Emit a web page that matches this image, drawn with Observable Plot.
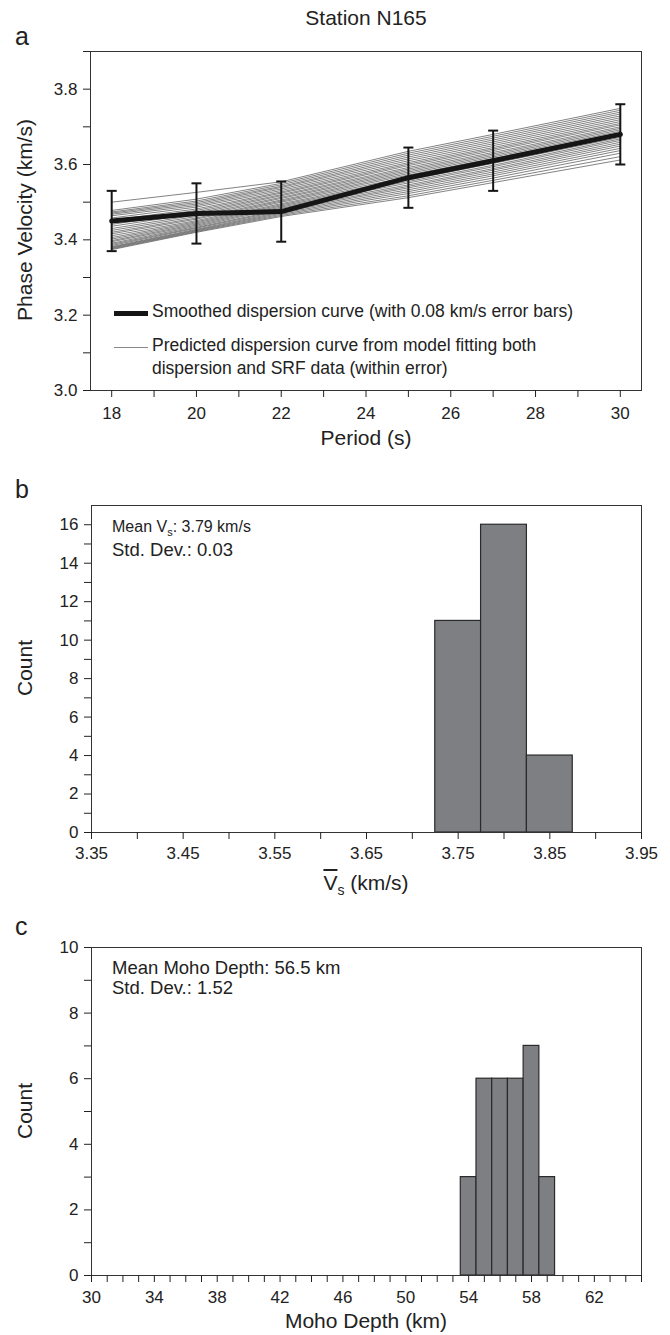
<!DOCTYPE html>
<html>
<head>
<meta charset="utf-8">
<script src="https://cdn.jsdelivr.net/npm/d3@7"></script>
<script src="https://cdn.jsdelivr.net/npm/@observablehq/plot@0.6"></script>
<style>
  html, body { margin: 0; padding: 0; background: #fff; }
  #wrap { position: relative; width: 670px; height: 1335px; font-family: "Liberation Sans", Arial, sans-serif; color: #222; overflow: hidden; }
  .panel { position: absolute; left: 0; }
  .t { position: absolute; line-height: 1; white-space: nowrap; }
  .ctr { transform: translateX(-50%); }
  .rot { transform: translate(-50%, -50%) rotate(-90deg); }
</style>
</head>
<body>
<div id="wrap"></div>
<script>
// ---------- Panel a data ----------
const periods = [18, 20, 22, 25, 27, 30];
const smoothVel = [3.45, 3.47, 3.475, 3.565, 3.61, 3.68];
const errorHalfWidth = 0.08;
const periodTickLabels = [18, 20, 22, 24, 26, 28, 30];
const periodMinorTicks = [19, 21, 23, 25, 27, 29];
const velTickLabels = [3.0, 3.2, 3.4, 3.6, 3.8];
const velMinorTicks = [3.1, 3.3, 3.5, 3.7, 3.9];

// predicted curves: value of each curve at each period
const predAt18 = [3.500, 3.478, 3.474, 3.471, 3.468, 3.464, 3.458, 3.452, 3.447, 3.441, 3.436, 3.430, 3.425, 3.420, 3.416, 3.411, 3.406, 3.402, 3.398, 3.395, 3.391, 3.388, 3.385, 3.382, 3.380, 3.378, 3.376, 3.374];
const predAt20 = [3.526, 3.508, 3.503, 3.499, 3.495, 3.491, 3.487, 3.482, 3.478, 3.474, 3.470, 3.466, 3.462, 3.458, 3.455, 3.451, 3.448, 3.445, 3.442, 3.439, 3.436, 3.433, 3.431, 3.428, 3.426, 3.424, 3.422, 3.420];
const predAt22 = [3.554, 3.550, 3.546, 3.542, 3.539, 3.535, 3.531, 3.527, 3.524, 3.520, 3.517, 3.513, 3.510, 3.506, 3.503, 3.500, 3.496, 3.493, 3.490, 3.487, 3.484, 3.480, 3.477, 3.474, 3.471, 3.468, 3.465, 3.462];
const predAt25 = [3.635, 3.630, 3.625, 3.620, 3.615, 3.610, 3.605, 3.601, 3.597, 3.592, 3.588, 3.584, 3.580, 3.576, 3.572, 3.567, 3.563, 3.559, 3.555, 3.551, 3.546, 3.542, 3.538, 3.533, 3.528, 3.523, 3.517, 3.512];
const predAt27 = [3.680, 3.675, 3.670, 3.665, 3.660, 3.655, 3.650, 3.645, 3.641, 3.637, 3.632, 3.628, 3.624, 3.620, 3.616, 3.611, 3.607, 3.603, 3.598, 3.594, 3.589, 3.585, 3.580, 3.575, 3.570, 3.564, 3.558, 3.552];
const predAt30 = [3.749, 3.744, 3.739, 3.734, 3.729, 3.724, 3.719, 3.714, 3.709, 3.705, 3.700, 3.696, 3.692, 3.688, 3.684, 3.680, 3.676, 3.672, 3.668, 3.664, 3.659, 3.654, 3.649, 3.643, 3.637, 3.630, 3.621, 3.612];

// ---------- Panel b data ----------
const vsBinLo = [3.725, 3.775, 3.825];
const vsBinHi = [3.775, 3.825, 3.875];
const vsCounts = [11, 16, 4];
const vsTickLabels = [3.35, 3.45, 3.55, 3.65, 3.75, 3.85, 3.95];
const vsMinorTicks = [3.40, 3.50, 3.60, 3.70, 3.80, 3.90];
const countTickLabelsB = [0, 2, 4, 6, 8, 10, 12, 14, 16];
const countMinorTicksB = [1, 3, 5, 7, 9, 11, 13, 15];

// ---------- Panel c data ----------
const mohoBinLo = [53.5, 54.5, 55.5, 56.5, 57.5, 58.5];
const mohoBinHi = [54.5, 55.5, 56.5, 57.5, 58.5, 59.5];
const mohoCounts = [3, 6, 6, 6, 7, 3];
const mohoTickLabels = [30, 34, 38, 42, 46, 50, 54, 58, 62];
const mohoMinorTicks = [31, 32, 33, 35, 36, 37, 39, 40, 41, 43, 44, 45, 47, 48, 49, 51, 52, 53, 55, 56, 57, 59, 60, 61, 63, 64, 65];
const countTickLabelsC = [0, 2, 4, 6, 8, 10];
const countMinorTicksC = [1, 3, 5, 7, 9];

// ---------- build tables ----------
const predArrays = [predAt18, predAt20, predAt22, predAt25, predAt27, predAt30];
const predRows = predAt18.flatMap((_, i) => predArrays.map((arr, j) => ({curve: i, period: periods[j], v: arr[i]})));
const smoothRows = periods.map((p, j) => ({period: p, vel: smoothVel[j], lo: smoothVel[j] - errorHalfWidth, hi: smoothVel[j] + errorHalfWidth}));
const vsRows = vsCounts.map((c, i) => ({lo: vsBinLo[i], hi: vsBinHi[i], count: c}));
const mohoRows = mohoCounts.map((c, i) => ({lo: mohoBinLo[i], hi: mohoBinHi[i], count: c}));

const FONT = '"Liberation Sans", Arial, sans-serif';
const baseStyle = {fontFamily: FONT, fontSize: "17px", color: "#222", background: "transparent", overflow: "visible"};
const capSymbol = {draw(ctx, size) { const h = Math.sqrt(size / Math.PI); ctx.moveTo(-h, 0); ctx.lineTo(h, 0); }};

function axes(xMajor, xMinor, yMajor, yMinor, xFmt, yFmt, xPad, yPad) {
  return [
    Plot.axisX(xMajor, {tickSize: 7, tickPadding: xPad, tickFormat: xFmt, label: null}),
    Plot.axisX(xMinor, {tickSize: 7, tickFormat: () => "", label: null}),
    Plot.axisY(yMajor, {tickSize: 7, tickPadding: yPad, tickFormat: yFmt, label: null}),
    Plot.axisY(yMinor, {tickSize: 7, tickFormat: () => "", label: null})
  ];
}

const plotA = Plot.plot({
  width: 670, height: 450,
  marginLeft: 90, marginRight: 29, marginTop: 51, marginBottom: 60,
  style: baseStyle,
  x: {domain: [17.5, 30.5]},
  y: {domain: [3.0, 3.9]},
  marks: [
    Plot.line(predRows, {x: "period", y: "v", z: "curve", stroke: "#4d4d4d", strokeWidth: 0.7}),
    Plot.line(smoothRows, {x: "period", y: "vel", stroke: "#151515", strokeWidth: 5}),
    Plot.ruleX(smoothRows, {x: "period", y1: "lo", y2: "hi", stroke: "#151515", strokeWidth: 2}),
    Plot.dot(smoothRows, {x: "period", y: "lo", symbol: capSymbol, r: 5, stroke: "#151515", strokeWidth: 2, fill: "none"}),
    Plot.dot(smoothRows, {x: "period", y: "hi", symbol: capSymbol, r: 5, stroke: "#151515", strokeWidth: 2, fill: "none"}),
    Plot.frame({stroke: "#333"}),
    ...axes(periodTickLabels, periodMinorTicks, velTickLabels, velMinorTicks, d => String(d), d => d.toFixed(1), 9, 6)
  ]
});

const plotB = Plot.plot({
  width: 670, height: 430,
  marginLeft: 91, marginRight: 29, marginTop: 55, marginBottom: 48,
  style: baseStyle,
  x: {domain: [3.35, 3.95]},
  y: {domain: [0, 17]},
  marks: [
    Plot.rectY(vsRows, {x1: "lo", x2: "hi", y: "count", fill: "#7e7f82", stroke: "#2a2a2a", strokeWidth: 1.2}),
    Plot.frame({stroke: "#333"}),
    ...axes(vsTickLabels, vsMinorTicks, countTickLabelsB, countMinorTicksB, d => d.toFixed(2), d => String(d), 7, 6)
  ]
});

const plotC = Plot.plot({
  width: 670, height: 445,
  marginLeft: 91, marginRight: 29, marginTop: 57, marginBottom: 60,
  style: baseStyle,
  x: {domain: [30, 65]},
  y: {domain: [0, 10]},
  marks: [
    Plot.rectY(mohoRows, {x1: "lo", x2: "hi", y: "count", fill: "#7e7f82", stroke: "#2a2a2a", strokeWidth: 1.2}),
    Plot.frame({stroke: "#333"}),
    ...axes(mohoTickLabels, mohoMinorTicks, countTickLabelsC, countMinorTicksC, d => String(d), d => String(d), 8, 6)
  ]
});

const wrap = document.getElementById("wrap");
function place(node, top) { const d = document.createElement("div"); d.className = "panel"; d.style.top = top + "px"; d.appendChild(node); wrap.appendChild(d); }
place(plotA, 0);
place(plotB, 450);
place(plotC, 890);

function txt(html, left, top, size, cls) {
  const d = document.createElement("div");
  d.className = "t" + (cls ? " " + cls : "");
  d.style.left = left + "px"; d.style.top = top + "px"; d.style.fontSize = size + "px";
  d.innerHTML = html; wrap.appendChild(d); return d;
}
function swatch(left, top, width, thick, color) {
  const d = document.createElement("div");
  d.style.cssText = `position:absolute;left:${left}px;top:${top - thick / 2}px;width:${width}px;height:${thick}px;background:${color};`;
  wrap.appendChild(d);
}

// Panel a text
txt("Station N165", 366, 7, 21, "ctr");
txt("a", 15, 24, 25);
txt("Phase Velocity (km/s)", 24, 220, 21, "rot");
txt("Period (s)", 366, 427, 21, "ctr");
swatch(114, 313, 34, 5, "#151515");
txt("Smoothed dispersion curve (with 0.08 km/s error bars)", 152, 303, 17.5);
swatch(114, 347, 34, 1, "#888");
txt("Predicted dispersion curve from model fitting both", 152, 337, 17.5);
txt("dispersion and SRF data (within error)", 152, 360, 17.5);

// Panel b text
txt("b", 15, 477, 25);
txt("Count", 24, 668, 21, "rot");
txt('Mean V<sub style="font-size:11px;vertical-align:-4px">s</sub>: 3.79 km/s', 112, 519, 16);
txt("Std. Dev.: 0.03", 112, 541, 18.5);
txt('<span style="text-decoration:overline">V</span><sub style="font-size:14px;vertical-align:-5px">s</sub> (km/s)', 366, 872, 21, "ctr");

// Panel c text
txt("c", 15, 914, 25);
txt("Count", 24, 1111, 21, "rot");
txt("Mean Moho Depth: 56.5 km", 112, 959, 18.5);
txt("Std. Dev.: 1.52", 112, 979, 18.5);
txt("Moho Depth (km)", 366, 1310, 21, "ctr");
</script>
</body>
</html>
